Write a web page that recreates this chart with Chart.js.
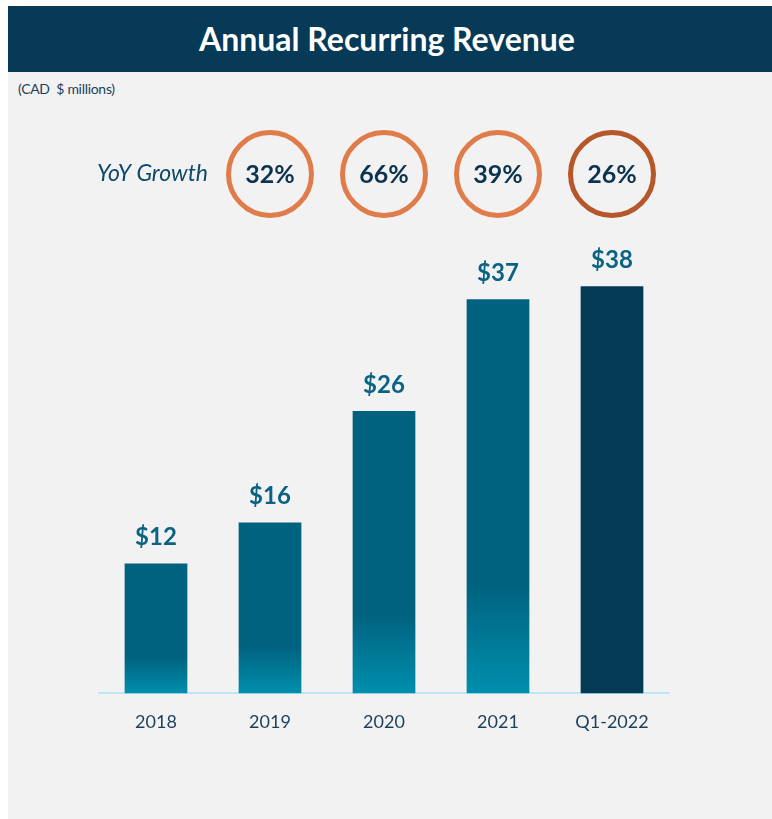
<!DOCTYPE html>
<html>
<head>
<meta charset="utf-8">
<title>Annual Recurring Revenue</title>
<script src="https://cdn.jsdelivr.net/npm/chart.js@4"></script>
<style>
    html, body { margin: 0; padding: 0; background: #ffffff; }
    body { width: 772px; height: 819px; position: relative; overflow: hidden; font-family: Lato, 'Open Sans', sans-serif; }
    #panel { position: absolute; left: 8px; top: 6px; width: 764px; height: 813px; background: #f2f2f2; }
    #header { position: absolute; left: 0; top: 0; width: 764px; height: 66px; background: #063a56;
        color: #ffffff; font-weight: bold; font-size: 32px; line-height: 66px; text-align: center; text-indent: -6px; }
    #unit { position: absolute; left: 10px; top: 74px; font-size: 14px; color: #1d3f5c; letter-spacing: -0.3px; }
    #chart-wrap { position: absolute; left: 0; top: 66px; width: 764px; height: 747px; }
</style>
</head>
<body>
<div id="panel">
    <div id="header">Annual Recurring Revenue</div>
    <div id="unit">(CAD&nbsp; $ millions)</div>
    <div id="chart-wrap"><canvas id="arrChart"></canvas></div>
</div>
<script>
// --- Data ---
const periods = ['2018', '2019', '2020', '2021', 'Q1-2022'];
const arrValues = [12.1, 15.9, 26.3, 36.7, 37.9];
const yoyGrowth = ['32%', '66%', '39%', '26%'];   // 2019 .. Q1-2022

const FONT = "Lato, 'Open Sans', sans-serif";
const barTop = '#00627f';
const barBottom = '#008fad';
const latestColor = '#053a57';

// --- Bar fill: solid upper part, fading lighter at the bottom ---
function barFill(context) {
    const chart = context.chart;
    const i = context.dataIndex;
    if (i === periods.length - 1) return latestColor;
    if (!chart.chartArea || !chart.scales.y) return barTop;
    const y = chart.scales.y;
    const top = y.getPixelForValue(arrValues[i]);
    const bottom = y.getPixelForValue(0);
    const g = chart.ctx.createLinearGradient(0, top, 0, bottom);
    g.addColorStop(0, barTop);
    g.addColorStop(0.72, barTop);
    g.addColorStop(1, barBottom);
    return g;
}

// --- Value labels above bars ---
const valueLabels = {
    id: 'valueLabels',
    afterDatasetsDraw(chart) {
        const ctx = chart.ctx;
        const meta = chart.getDatasetMeta(0);
        ctx.save();
        ctx.font = `bold 24px ${FONT}`;
        ctx.fillStyle = '#0b6384';
        ctx.textAlign = 'center';
        ctx.textBaseline = 'middle';
        meta.data.forEach((bar, i) => {
            ctx.fillText('$' + Math.round(arrValues[i]), bar.x, bar.y - 26);
        });
        ctx.restore();
    }
};

// --- YoY growth rings ---
const growthRings = {
    id: 'growthRings',
    afterDraw(chart) {
        const ctx = chart.ctx;
        const x = chart.scales.x;
        const cy = 102;
        ctx.save();
        ctx.font = `italic 23px ${FONT}`;
        ctx.fillStyle = '#0f4a6b';
        ctx.textAlign = 'left';
        ctx.textBaseline = 'middle';
        ctx.fillText('YoY Growth', 89, cy);

        yoyGrowth.forEach((g, i) => {
            const cx = x.getPixelForValue(i + 1);
            ctx.beginPath();
            ctx.arc(cx, cy, 41.5, 0, Math.PI * 2);
            ctx.lineWidth = 5;
            ctx.strokeStyle = i === yoyGrowth.length - 1 ? '#b5572b' : '#e07b4a';
            ctx.stroke();
            ctx.font = `bold 25px ${FONT}`;
            ctx.fillStyle = '#0a3350';
            ctx.textAlign = 'center';
            ctx.fillText(g, cx, cy + 1);
        });
        ctx.restore();
    }
};

// --- Chart ---
const ctx = document.getElementById('arrChart').getContext('2d');
new Chart(ctx, {
    type: 'bar',
    data: {
        labels: periods,
        datasets: [{
            data: arrValues,
            backgroundColor: barFill,
            barPercentage: 0.55,
            categoryPercentage: 1
        }]
    },
    options: {
        responsive: true,
        maintainAspectRatio: false,
        animation: false,
        layout: { padding: { left: 91, right: 103, top: 138, bottom: 68 } },
        scales: {
            x: {
                grid: { display: false, drawTicks: false },
                border: { display: true, color: '#bde6f7', width: 2 },
                ticks: { color: '#1d3f5c', font: { family: FONT, size: 18 }, padding: 18 }
            },
            y: { display: false, min: 0, max: 45 }
        },
        plugins: { legend: { display: false }, tooltip: { enabled: false } }
    },
    plugins: [valueLabels, growthRings]
});
</script>
</body>
</html>
